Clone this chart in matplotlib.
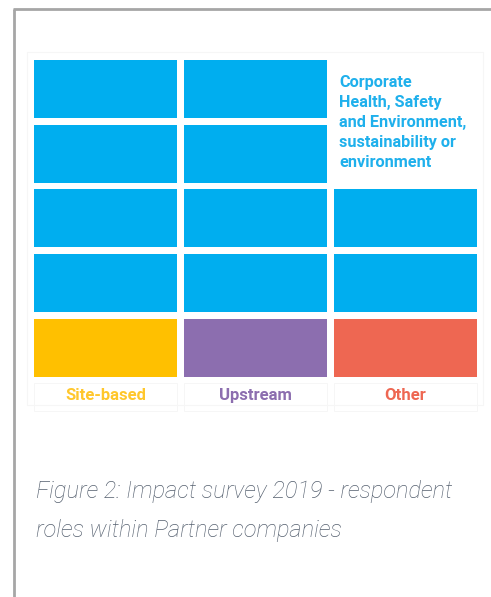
import matplotlib
matplotlib.use("Agg")
import matplotlib.pyplot as plt
from matplotlib.patches import Rectangle

# ---- data ----
categories = ["Site-based", "Upstream", "Other"]
base_colors = ["#FFC000", "#8C6EAF", "#EE6752"]
label_colors = ["#FFC72C", "#8C6EAF", "#EE6752"]
blue_cells = [4, 4, 2]          # blue cells stacked above each base cell
blue_color = "#00AEEF"
note_text = "Corporate\nHealth, Safety\nand Environment,\nsustainability or\nenvironment"
caption = "Figure 2: Impact survey 2019 - respondent\nroles within Partner companies"

W, H = 491, 597
fig = plt.figure(figsize=(W / 100, H / 100), dpi=100)
fig.patch.set_facecolor("white")

# background axes in pixel coordinates
bg = fig.add_axes([0, 0, 1, 1])
bg.set_xlim(0, W)
bg.set_ylim(H, 0)
bg.axis("off")
bg.plot([13.7, 13.7], [8.7, H], color="#a6a6a6", lw=2.0, solid_capstyle="butt")
bg.plot([12.7, W], [8.7, 8.7], color="#a6a6a6", lw=2.0, solid_capstyle="butt")
bg.add_patch(Rectangle((27, 52), 456, 353, fill=False, ec="#f6f6f6", lw=0.8))

# grid axes
left_px, right_px = 30.5, 480.5
top_px, bot_px = 56.6, 380.35
ax = fig.add_axes([left_px / W, 1 - bot_px / H, (right_px - left_px) / W, (bot_px - top_px) / H])
ax.set_xlim(0, 3)
ax.set_ylim(0, 5)
ax.axis("off")

bw, bh = 143 / 150, 58 / 64.75
for i, (n, bc) in enumerate(zip(blue_cells, base_colors)):
    ax.bar(i + 0.5, bh, width=bw, bottom=(1 - bh) / 2, color=bc, edgecolor="none")
    for r in range(n):
        ax.bar(i + 0.5, bh, width=bw, bottom=1 + r + (1 - bh) / 2, color=blue_color, edgecolor="none")

# note in the empty column cells
ax.text(2 + (1 - bw) / 2 + 0.035, 4.72, note_text, ha="left", va="top",
        fontsize=11.7, fontweight="bold", family="Roboto", color="#1FB0EC", linespacing=1.42)

# category labels
for i, (c, lc) in enumerate(zip(categories, label_colors)):
    bg.text(34 + 71.5 + 150 * i, 395.7, c, ha="center", va="center", fontsize=12,
            fontweight="bold", family="Roboto", color=lc)
    bg.add_patch(Rectangle((34 + 150 * i, 383), 143, 28, fill=False, ec="#f6f6f6", lw=0.7))

# caption
bg.text(36.5, 511, caption, ha="left", va="center", fontsize=17, fontstyle="italic",
        fontweight="light", family="Roboto", color="#55606f", linespacing=1.88)

fig.savefig("out.png", dpi=100)
